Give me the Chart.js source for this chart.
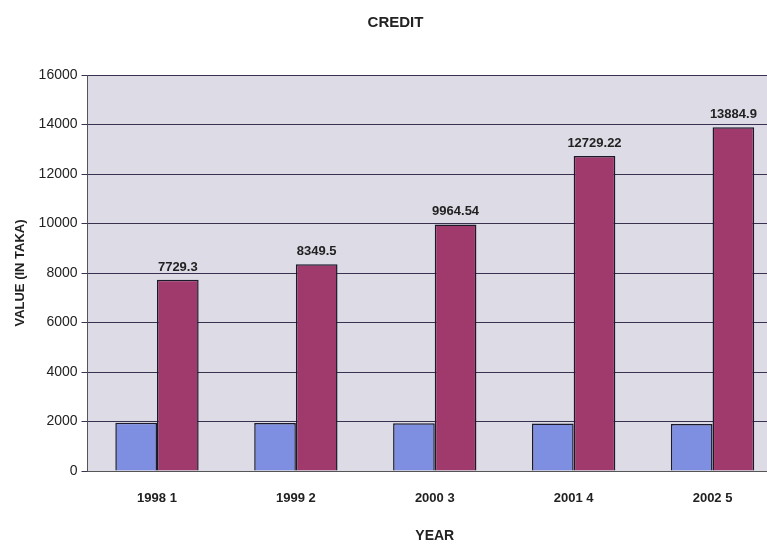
<!DOCTYPE html>
<html><head><meta charset="utf-8">
<script src="https://cdn.jsdelivr.net/npm/chart.js@4/dist/chart.umd.min.js"></script>
<style>
html,body{margin:0;padding:0;background:#fff;overflow:hidden;}
#wrap{width:782px;height:548px;position:relative;}
</style></head><body>
<div id="wrap"><canvas id="c" width="782" height="548"></canvas></div>
<script>
const years = ["1998", "1999", "2000", "2001", "2002"];
const indexNums = ["1", "2", "3", "4", "5"];
const seriesBlue = [1950, 1940, 1930, 1920, 1900];
const seriesCredit = [7729.3, 8349.5, 9964.54, 12729.22, 13884.9];
const creditLabels = ["7729.3", "8349.5", "9964.54", "12729.22", "13884.9"];
const yTicks = [0, 2000, 4000, 6000, 8000, 10000, 12000, 14000, 16000];

const labels = years.map((y, i) => y + " " + indexNums[i]);
const FONT = "'Liberation Sans Narrow','Liberation Sans',Arial,sans-serif";

const bgPlugin = {
  id: 'bg',
  beforeDraw(chart) {
    const {ctx, chartArea: a} = chart;
    ctx.save();
    ctx.fillStyle = '#dcdbe6';
    ctx.fillRect(a.left, a.top, a.right - a.left, a.bottom - a.top);
    ctx.restore();
  }
};
const valPlugin = {
  id: 'vals',
  afterDatasetsDraw(chart) {
    const {ctx} = chart;
    const meta = chart.getDatasetMeta(1);
    ctx.save();
    ctx.font = "bold 13px " + FONT;
    ctx.fillStyle = '#222';
    ctx.textAlign = 'center';
    ctx.textBaseline = 'bottom';
    meta.data.forEach((el, i) => {
      ctx.fillText(creditLabels[i], el.x, el.y - 6);
    });
    ctx.restore();
  }
};

new Chart(document.getElementById('c'), {
  type: 'bar',
  data: {
    labels: labels,
    datasets: [
      {label: 'Series1', data: seriesBlue, backgroundColor: '#7e8ee0', borderColor: '#1a1a2a', borderWidth: 1.5, categoryPercentage: 0.6, barPercentage: 1.0},
      {label: 'Series2', data: seriesCredit, backgroundColor: '#a13a6c', borderColor: '#1a1a2a', borderWidth: 1.5, categoryPercentage: 0.6, barPercentage: 1.0}
    ]
  },
  options: {
    responsive: false,
    animation: false,
    devicePixelRatio: 1,
    layout: {padding: {left: 9, right: 0, top: 8, bottom: 0}},
    plugins: {
      legend: {display: false},
      tooltip: {enabled: false},
      title: {display: true, text: 'CREDIT', color: '#222', font: {family: FONT, size: 15, weight: 'bold'}, padding: {top: 6, bottom: 43}}
    },
    scales: {
      x: {
        grid: {display: false, drawTicks: false, tickLength: 0},
        border: {color: '#555', width: 1},
        ticks: {color: '#222', font: {family: FONT, size: 13, weight: 'bold'}, padding: 20},
        title: {display: true, text: 'YEAR', color: '#222', font: {family: FONT, size: 14, weight: 'bold'}, padding: {top: 10, bottom: 3}},
        afterFit(s) { s.height = 77; }
      },
      y: {
        min: 0, max: 16000,
        afterBuildTicks(s) { s.ticks = yTicks.map(v => ({value: v})); },
        grid: {color: '#3a3050', lineWidth: 1, drawTicks: true, tickLength: 6},
        border: {color: '#555', width: 1},
        ticks: {color: '#222', font: {family: FONT, size: 14}, padding: 4, callback: (v) => String(v)},
        title: {display: true, text: 'VALUE (IN TAKA)', color: '#222', font: {family: FONT, size: 13, weight: 'bold'}, padding: {bottom: 6}}
      }
    }
  },
  plugins: [bgPlugin, valPlugin]
});
</script>
</body></html>
